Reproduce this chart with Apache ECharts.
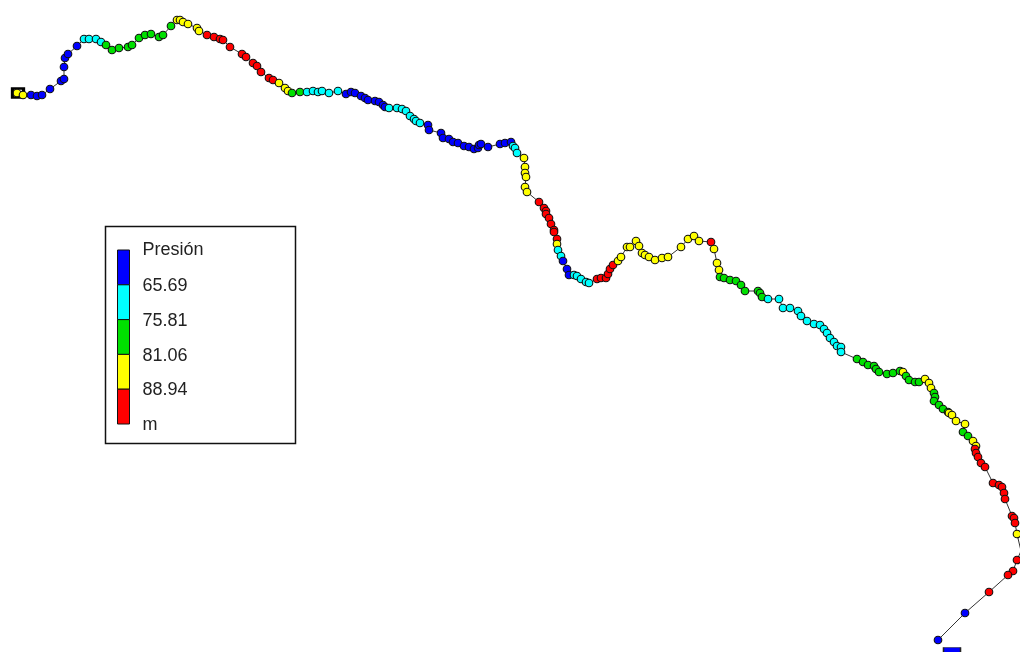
<!DOCTYPE html>
<html><head><meta charset="utf-8">
<style>html,body{margin:0;padding:0;background:#fff}#c{width:1020px;height:652px}</style>
<script src="https://cdn.jsdelivr.net/npm/echarts@6/dist/echarts.min.js"></script>
</head><body><div id="c"></div>
<script>
const legendTitle = "Presión";
const legendTicks = ["65.69","75.81","81.06","88.94"];
const legendUnit = "m";
const classColors = ["#0000ff","#00ffff","#00e000","#ffff00","#ff0000"];
// node positions along the pipeline (map units) and pressure class (0..4)
const nodeX = [17,23,31,37,42,50,61,64,64,65,68,77,84,89,96,101,106,112,119,128,132,139,145,151,159,163,171,177,180,183,188,197,199,207,214,220,223,230,242,246,253,257,261,269,273,279,285,288,292,300,307,313,318,322,329,338,346,351,355,361,365,368,375,379,383,385,389,397,402,406,410,414,416,420,428,429,441,443,449,453,458,464,469,474,478,479,481,488,500,505,511,513,515,517,524,525,525,526,525,527,539,544,546,546,549,551,554,554,557,557,558,561,563,567,569,574,577,581,586,589,597,601,606,608,610,613,618,621,627,630,636,639,642,645,649,655,662,668,681,688,694,699,711,714,717,719,720,724,730,736,741,745,758,760,762,768,779,783,790,798,801,807,814,820,824,827,830,834,837,841,841,857,863,868,874,876,879,887,893,900,903,906,909,915,919,925,929,931,934,935,934,939,943,948,949,952,956,965,963,968,973,976,975,976,978,981,985,993,999,1002,1004,1005,1012,1014,1015,1017,1021,1017,1013,1008,989,965,938];
const nodeY = [93,95,95,96,95,89,81,79,67,58,54,46,39,39,39,42,45,50,48,47,45,38,35,34,37,35,26,20,20,22,24,28,31,35,37,39,40,47,54,57,63,66,72,78,80,83,88,91,93,92,92,91,92,91,93,91,94,92,93,96,98,100,101,102,105,107,108,108,109,111,116,119,121,123,125,130,133,138,139,142,143,146,147,149,148,145,144,147,144,143,142,146,148,153,158,167,173,177,187,192,202,208,211,214,218,224,230,232,239,244,250,256,261,269,275,275,276,279,282,283,279,278,278,274,269,265,261,257,247,247,241,246,253,255,257,260,258,257,247,239,236,241,242,249,263,270,277,278,280,281,285,291,291,293,297,299,299,308,308,311,316,321,324,325,329,333,338,342,346,347,352,359,362,365,366,369,372,374,373,371,372,376,380,382,382,379,383,388,393,397,401,405,409,412,413,415,421,424,432,436,441,446,449,453,457,463,467,483,485,487,493,499,516,518,523,534,551,560,571,575,592,613,640];
const nodeClass = [3,3,0,0,0,0,0,0,0,0,0,0,1,1,1,1,2,2,2,2,2,2,2,2,2,2,2,3,3,3,3,3,3,4,4,4,4,4,4,4,4,4,4,4,4,3,3,3,2,2,1,1,1,1,1,1,0,0,0,0,0,0,0,0,0,0,1,1,1,1,1,1,1,1,0,0,0,0,0,0,0,0,0,0,0,0,0,0,0,0,0,1,1,1,3,3,3,3,3,3,4,4,4,4,4,4,4,4,4,3,1,1,0,0,0,1,1,1,1,1,4,4,4,4,4,4,3,3,3,3,3,3,3,3,3,3,3,3,3,3,3,3,4,3,3,3,2,2,2,2,2,2,2,2,2,1,1,1,1,1,1,1,1,1,1,1,1,1,1,1,1,2,2,2,2,2,2,2,2,2,3,2,2,2,2,3,3,3,2,2,2,2,2,2,3,3,3,3,2,2,3,3,4,4,4,4,4,4,4,4,4,4,4,4,4,3,4,4,4,4,4,0,0];
const sourcePoint = [[18,93]];
const reservoirPoint = [[952,651]];

const pipeData = nodeX.map((x,i)=>({value:[x,nodeY[i]],itemStyle:{color:classColors[nodeClass[i]]}}));
const barH = 34.8, barTop = 250, labelFont = '18px "Liberation Sans"', txtColor = '#222';
const g = [
  {type:'rect',shape:{x:105.5,y:226.5,width:190,height:217},style:{fill:'#fff',stroke:'#111',lineWidth:1.5},z:1}
];
classColors.forEach((c,i)=>g.push({type:'rect',shape:{x:117.5,y:barTop+i*barH,width:12,height:barH},style:{fill:c,stroke:'#111',lineWidth:1},z:2}));
[legendTitle,...legendTicks,legendUnit].forEach((t,i)=>g.push({type:'text',x:142.5,y:barTop+i*barH+(i?1.2:0.5),z:3,style:{text:t,font:labelFont,fill:txtColor,textVerticalAlign:'middle',textAlign:'left'}}));

const chart = echarts.init(document.getElementById('c'),null,{renderer:'canvas'});
chart.setOption({
  animation:false,
  backgroundColor:'#fff',
  grid:{left:0,right:0,top:0,bottom:0},
  xAxis:{type:'value',min:0,max:1020,show:false},
  yAxis:{type:'value',min:0,max:652,inverse:true,show:false},
  series:[
    {type:'scatter',data:sourcePoint,symbol:'rect',symbolSize:[11,9],itemStyle:{color:'#fff',borderColor:'#000',borderWidth:3,opacity:1},z:1,silent:true},
    {type:'line',data:pipeData,showSymbol:true,showAllSymbol:true,symbol:'circle',symbolSize:7.6,
     lineStyle:{color:'#333',width:1},itemStyle:{borderColor:'#111',borderWidth:1.1},z:2,silent:true,clip:true},
    {type:'scatter',data:reservoirPoint,symbol:'rect',symbolSize:[17,7],itemStyle:{color:'#0000ff',borderColor:'#222',borderWidth:1,opacity:1},z:3,silent:true}
  ],
  graphic:{elements:g}
});
</script></body></html>
